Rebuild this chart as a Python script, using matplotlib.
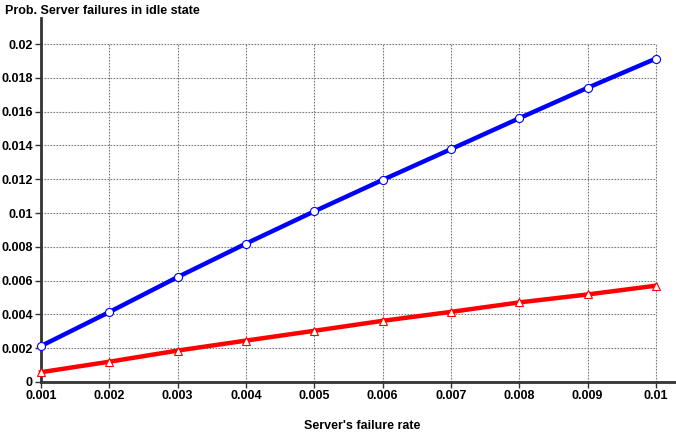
import matplotlib
matplotlib.use("Agg")
import matplotlib.pyplot as plt
from matplotlib.ticker import FuncFormatter

plt.rcParams['font.family'] = ['Liberation Sans', 'DejaVu Sans']

failure_rate = [0.001, 0.002, 0.003, 0.004, 0.005, 0.006, 0.007, 0.008, 0.009, 0.010]
prob_blue = [0.00213, 0.00414, 0.00621, 0.00819, 0.0101, 0.01196, 0.01378, 0.01561, 0.01741, 0.01914]
prob_red = [0.00058, 0.00120, 0.00186, 0.00245, 0.00303, 0.00362, 0.00415, 0.00471, 0.00518, 0.00570]
y_ticks = [0, 0.002, 0.004, 0.006, 0.008, 0.010, 0.012, 0.014, 0.016, 0.018, 0.020]

fig = plt.figure(figsize=(6.76, 4.47), dpi=100)
ax = fig.add_axes([41 / 676, 65 / 447, 635 / 676, 364 / 447])

x0, x1 = failure_rate[0], failure_rate[-1]
dx = (x1 - x0) / 615.0
ax.set_xlim(x0, x1 + 20 * dx)
ax.set_ylim(0, 0.02154)

# dotted grid restricted to the tick span
grid_kw = dict(color='#7a7a7a', linestyle=(0, (1.5, 1.2)), linewidth=0.8, zorder=1)
ax.hlines(y_ticks[1:], x0, x1, **grid_kw)
ax.vlines(failure_rate[1:], 0, y_ticks[-1], **grid_kw)

ax.plot(failure_rate, prob_blue, color='#0000ff', linewidth=3.2, marker='o',
        markersize=5.8, markerfacecolor='white', markeredgecolor='#0000ff',
        markeredgewidth=0.8, zorder=3, clip_on=False)
ax.plot(failure_rate, prob_red, color='#ff0000', linewidth=3.2, marker='^',
        markersize=6.3, markerfacecolor='white', markeredgecolor='#ff0000',
        markeredgewidth=0.8, zorder=3, clip_on=False)

ax.set_xticks(failure_rate)
ax.set_yticks(y_ticks)
fmt = FuncFormatter(lambda v, p: '0' if v == 0 else ('%g' % round(v, 4)))
ax.xaxis.set_major_formatter(fmt)
ax.yaxis.set_major_formatter(fmt)
for lab in ax.get_xticklabels() + ax.get_yticklabels():
    lab.set_fontweight('bold')
    lab.set_fontsize(9)
ax.tick_params(axis='both', direction='out', length=4, width=1, color='#333333', pad=2)

for side in ('top', 'right'):
    ax.spines[side].set_visible(False)
for side in ('left', 'bottom'):
    ax.spines[side].set_color('#333333')
    ax.spines[side].set_linewidth(2)

fig.text(5 / 676, 1 - 11 / 447, 'Prob. Server failures in idle state', fontsize=9,
         fontweight='bold', ha='left', va='center')
fig.text(362 / 676, 1 - 426 / 447, "Server's failure rate", fontsize=9,
         fontweight='bold', ha='center', va='center')

fig.savefig('out.png', dpi=100)
